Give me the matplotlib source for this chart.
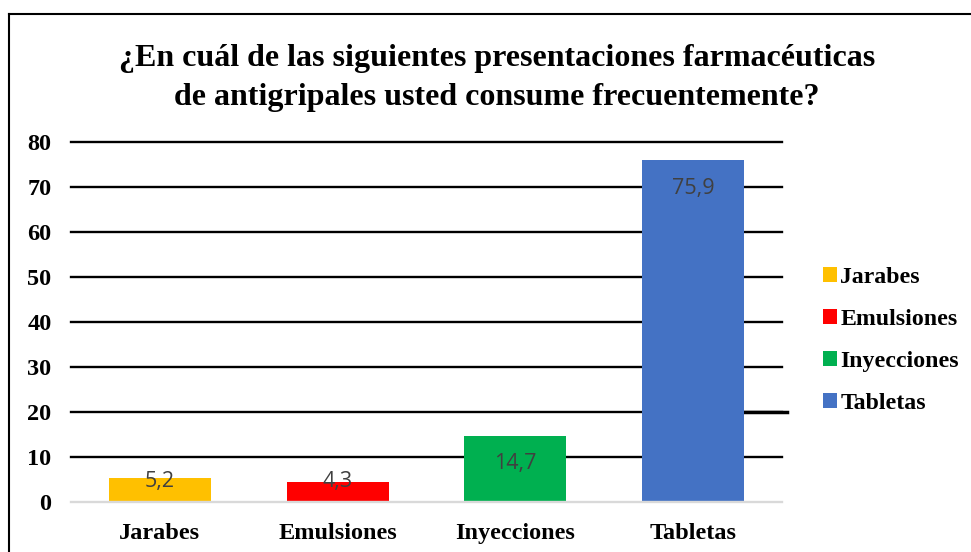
import matplotlib
matplotlib.use("Agg")
import matplotlib.pyplot as plt
from matplotlib.lines import Line2D
from matplotlib.patches import Patch

categories = ["Jarabes", "Emulsiones", "Inyecciones", "Tabletas"]
values = [5.2, 4.3, 14.7, 75.9]
value_labels = ["5,2", "4,3", "14,7", "75,9"]
colors = ["#FFC000", "#FF0000", "#00B050", "#4472C4"]
yticks = [0, 10, 20, 30, 40, 50, 60, 70, 80]
title = "¿En cuál de las siguientes presentaciones farmacéuticas\nde antigripales usted consume frecuentemente?"

W, H = 971, 552
fig = plt.figure(figsize=(W / 100, H / 100), dpi=100)
serif = ["Liberation Serif", "DejaVu Serif"]

# plot area: x 71..782, y 141.7..501.7 (px)
ax = fig.add_axes([71 / W, 1 - 501.7 / H, (782 - 71) / W, (501.7 - 141.7) / H])
x = list(range(len(categories)))
ax.bar(x, values, width=0.574, color=colors, zorder=3)
ax.set_xlim(-0.5, len(categories) - 0.5)
ax.set_ylim(0, 80)
ax.set_yticks(yticks)
ax.set_yticklabels([str(t) for t in yticks])
ax.set_xticks(x)
ax.set_xticklabels(categories)
for sp in ax.spines.values():
    sp.set_visible(False)
ax.tick_params(length=0)
ax.tick_params(axis="y", pad=14)
ax.tick_params(axis="x", pad=15)
for lab in ax.get_xticklabels() + ax.get_yticklabels():
    lab.set_fontfamily(serif)
    lab.set_fontweight("bold")
    lab.set_fontsize(17.5)
for t in yticks[1:]:
    ax.axhline(t, color="black", lw=1.7, zorder=1, clip_on=False)
ax.axhline(0, color="#D9D9D9", lw=1.7, zorder=4, clip_on=False)

for xi, v, lab in zip(x, values, value_labels):
    ypos = max(v - 6.2, 4.5)
    ax.text(xi, ypos, lab, ha="center", va="center", fontsize=15.5,
            color="#404040", family=["Open Sans", "DejaVu Sans"], zorder=5)

# stray thick segment at 20 to the right of the last bar
ax.plot([3 + 0.574 / 2, 3.53], [20, 20], color="black", lw=2.5, clip_on=False, zorder=2)

handles = [Patch(facecolor=c, edgecolor="none") for c in colors]
leg = fig.legend(handles, categories, loc="center left",
                 bbox_to_anchor=(801 / W, 1 - 340.5 / H), frameon=False,
                 prop={"family": serif, "weight": "bold", "size": 17.2},
                 handlelength=0.6, handleheight=0.6, handletextpad=0.15,
                 labelspacing=0.88)

fig.text(497 / W, 1 - 78 / H, title, ha="center", va="center",
         fontsize=23, fontweight="bold", family=serif, linespacing=1.42)

# outer border (top and left visible)
fig.add_artist(Line2D([9 / W, 1.0], [1 - 14 / H, 1 - 14 / H], color="black", lw=1.5, transform=fig.transFigure))
fig.add_artist(Line2D([9 / W, 9 / W], [0, 1 - 14 / H], color="black", lw=1.5, transform=fig.transFigure))

fig.savefig("out.png", dpi=100)
